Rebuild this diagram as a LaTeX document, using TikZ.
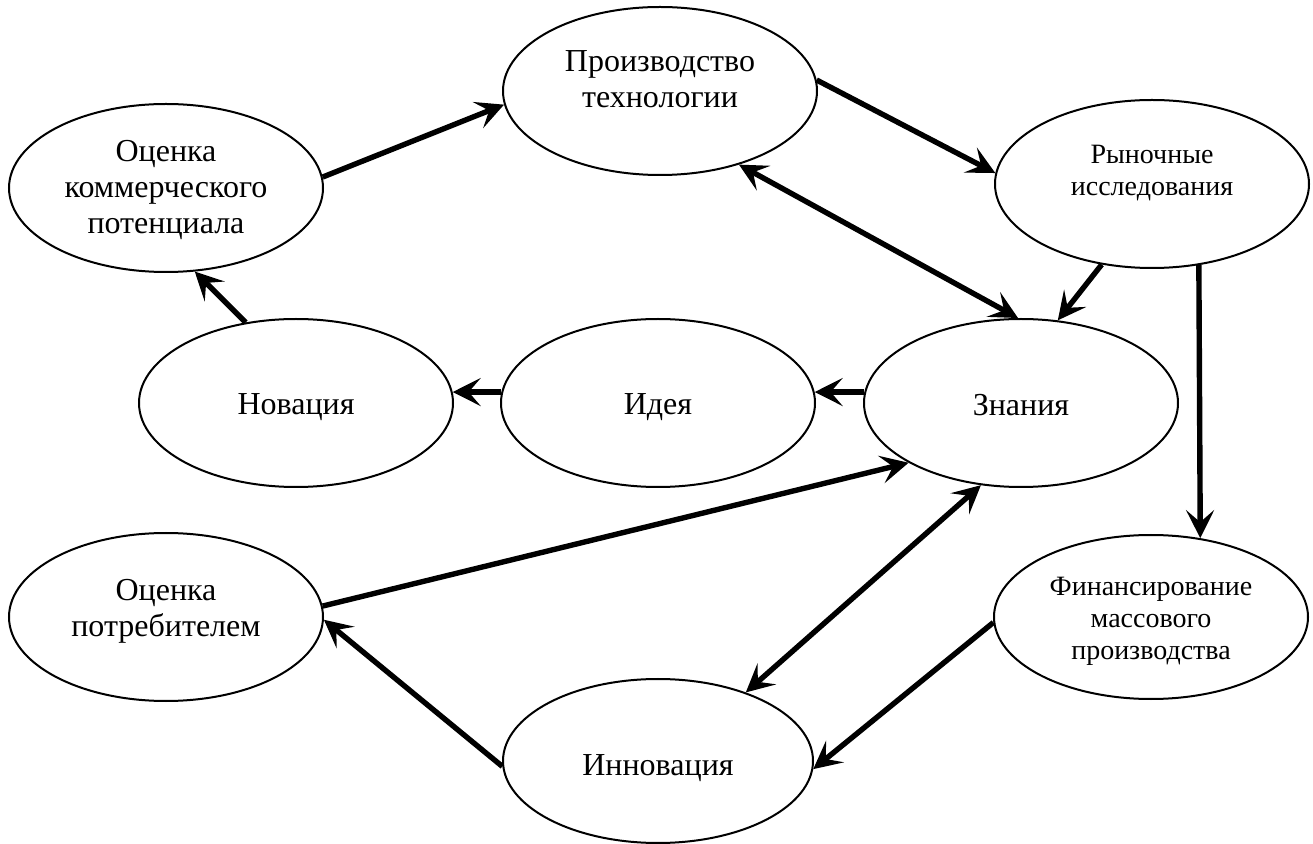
\documentclass[tikz,border=0pt]{standalone}
\usepackage{fontspec}
\setmainfont{Liberation Serif}
\usetikzlibrary{shapes.geometric,arrows.meta}
\tikzset{
  ell/.style={ellipse, draw, line width=1pt, minimum width=157pt, minimum height=84pt, inner sep=0pt},
  lbl/.style={align=center, font=\fontsize{16}{18}\selectfont, inner sep=0pt},
  lbls/.style={align=center, font=\fontsize{14}{16}\selectfont, inner sep=0pt},
  tipst/.tip={Stealth[length=14pt,width=14pt,inset=6pt]},
  arr/.style={line width=2.7pt, -tipst},
  darr/.style={line width=2.7pt, tipst-tipst}
}
\begin{document}
\begin{tikzpicture}[x=0.5pt,y=-0.5pt]
\useasboundingbox (0,0) rectangle (1313,844);
\node[ell, label={[lbl, yshift=6pt]center:{Производство\\технологии}}] (P) at (660,91) {};
\node[ell, label={[lbl, yshift=-1pt]center:{Оценка\\коммерческого\\потенциала}}] (K) at (166,188) {};
\node[ell, label={[lbls, yshift=5.5pt]center:{Рыночные\\исследования}}] (R) at (1152,184) {};
\node[ell, label={[lbl, yshift=-2pt]center:{Новация}}] (N) at (296,403) {};
\node[ell, label={[lbl, yshift=-2pt]center:{Идея}}] (I) at (658,403) {};
\node[ell, label={[lbl, yshift=-1pt]center:{Знания}}] (Z) at (1021,403) {};
\node[ell, label={[lbl, yshift=3pt]center:{Оценка\\потребителем}}] (C) at (166,617) {};
\node[ell, minimum height=82pt, label={[lbls, yshift=-2pt]center:{Финансирование\\массового\\производства}}] (F) at (1151,617) {};
\node[ell, minimum width=155pt, minimum height=82pt, label={[lbl, yshift=-3.5pt]center:{Инновация}}] (V) at (658,761) {};

\draw[arr] (K.4) -- (P.185);
\draw[arr] (P.4) -- (R.176);
\draw[arr] (R.238) -- (Z.66);
\draw[darr] (P.317) -- (Z.92);
\draw[arr] (R.300) -- (F.58);
\draw[arr] (Z.176) -- (I.4);
\draw[arr] (I.176) -- (N.4);
\draw[arr] (N.122) -- (K.289);
\draw[arr] (C.4) -- (Z.208);
\draw[darr] (Z.244) -- (V.38);
\draw[arr] (F.182) -- (V.357);
\draw[arr] (V.182) -- (C.359);
\end{tikzpicture}
\end{document}
